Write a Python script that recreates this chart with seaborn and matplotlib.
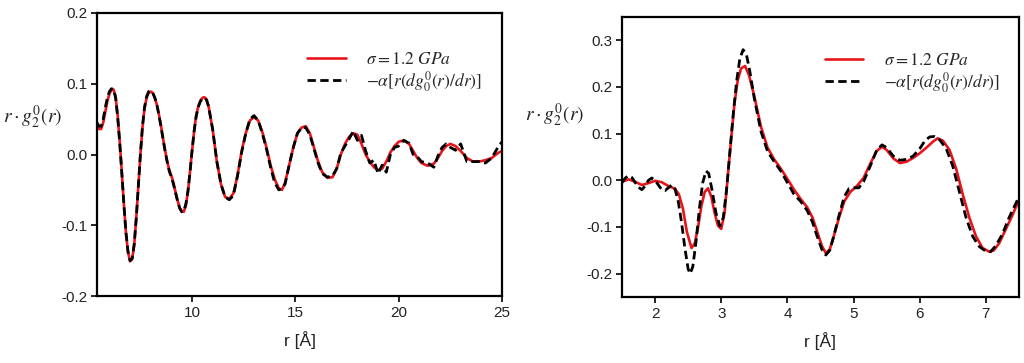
import numpy as np
import pandas as pd
import seaborn as sns
import matplotlib
matplotlib.use("Agg")
import matplotlib.pyplot as plt

# ---------------- data ----------------
r_left = [5.4, 5.5, 5.6, 5.7, 5.8, 5.9, 6.0, 6.1, 6.2, 6.3, 6.4, 6.5, 6.6, 6.7, 6.8, 6.9,
          7.0, 7.1, 7.2, 7.3, 7.4, 7.5, 7.6, 7.7, 7.8, 7.9, 8.0, 8.1, 8.2, 8.3, 8.4, 8.5,
          8.6, 8.7, 8.8, 8.9, 9.0, 9.1, 9.2, 9.3, 9.4, 9.5, 9.6, 9.7, 9.8, 9.9, 10.0,
          10.1, 10.2, 10.3, 10.4, 10.5, 10.6, 10.7, 10.8,
          11.0, 11.2, 11.4, 11.6, 11.8, 12.0, 12.2, 12.4, 12.6, 12.8, 13.0, 13.2, 13.4,
          13.6, 13.8, 14.0, 14.2, 14.35, 14.5, 14.7, 14.9, 15.1, 15.3, 15.5, 15.7, 15.9,
          16.1, 16.3, 16.55, 16.8, 17.0, 17.2, 17.4, 17.6, 17.8, 18.0, 18.2, 18.4, 18.6,
          18.8, 19.0, 19.2, 19.4, 19.6, 19.8, 20.0, 20.25, 20.5, 20.7, 20.9, 21.1, 21.4,
          21.7, 21.9, 22.1, 22.3, 22.5, 22.75, 23.0, 23.3, 23.6, 23.9, 24.2, 24.5, 24.8,
          25.0]
sigma_left = [0.042, 0.036, 0.036, 0.045, 0.06, 0.075, 0.086, 0.091, 0.092, 0.082, 0.055,
              0.018, -0.025, -0.07, -0.11, -0.138, -0.151, -0.148, -0.128, -0.09, -0.045,
              0.0, 0.038, 0.065, 0.08, 0.087, 0.089, 0.087, 0.08, 0.07, 0.056, 0.04,
              0.022, 0.005, -0.01, -0.022, -0.03, -0.04, -0.053, -0.065, -0.075, -0.08,
              -0.081, -0.072, -0.053, -0.025, 0.005, 0.033, 0.055, 0.068, 0.076, 0.08,
              0.081, 0.078, 0.068,
              0.035, -0.01, -0.042, -0.06, -0.063, -0.055, -0.03, 0.005, 0.03, 0.048,
              0.053, 0.048, 0.032, 0.01, -0.015, -0.035, -0.048, -0.05, -0.04, -0.015,
              0.01, 0.03, 0.038, 0.04, 0.03, 0.01, -0.01, -0.025, -0.033, -0.032, -0.02,
              0.0, 0.015, 0.025, 0.03, 0.028, 0.015, 0.0, -0.01, -0.018, -0.022, -0.02,
              -0.01, 0.003, 0.012, 0.018, 0.02, 0.015, 0.005, -0.005, -0.012, -0.016,
              -0.013, -0.005, 0.005, 0.012, 0.015, 0.012, 0.005, -0.005, -0.01, -0.01,
              -0.008, -0.005, 0.002, 0.005]
deriv_left = [0.045, 0.04, 0.04, 0.05, 0.066, 0.08, 0.089, 0.093, 0.092, 0.08, 0.053,
              0.016, -0.026, -0.07, -0.11, -0.137, -0.15, -0.147, -0.127, -0.09, -0.045,
              0.0, 0.04, 0.067, 0.082, 0.089, 0.09, 0.087, 0.08, 0.07, 0.055, 0.039,
              0.021, 0.004, -0.011, -0.024, -0.032, -0.042, -0.054, -0.066, -0.076,
              -0.081, -0.08, -0.07, -0.052, -0.025, 0.005, 0.033, 0.054, 0.067, 0.075,
              0.079, 0.08, 0.077, 0.068,
              0.035, -0.01, -0.042, -0.06, -0.064, -0.058, -0.03, 0.003, 0.03, 0.05,
              0.055, 0.048, 0.03, 0.008, -0.018, -0.04, -0.05, -0.048, -0.042, -0.015,
              0.01, 0.03, 0.038, 0.038, 0.028, 0.008, -0.012, -0.027, -0.032, -0.03,
              -0.02, 0.002, 0.012, 0.022, 0.033, 0.02, 0.027, 0.005, -0.012, -0.008,
              -0.027, -0.015, -0.025, 0.0, 0.01, 0.012, 0.02, 0.016, 0.0, -0.003, -0.01,
              -0.012, -0.018, -0.002, 0.01, 0.015, 0.01, 0.006, 0.015, -0.01, -0.01,
              -0.01, -0.012, -0.005, 0.01, 0.018]

r_right_sigma = [1.5, 1.6, 1.7, 1.8, 1.9, 2.0, 2.1, 2.2, 2.3, 2.36, 2.42, 2.48, 2.55, 2.6,
                 2.65, 2.7, 2.75, 2.8, 2.85, 2.9, 2.95, 3.0, 3.05, 3.1, 3.15, 3.2, 3.25,
                 3.3, 3.36, 3.42, 3.5, 3.6, 3.7, 3.8, 3.9, 4.0, 4.1, 4.2, 4.3, 4.38, 4.45,
                 4.52, 4.58, 4.64, 4.7, 4.78, 4.86, 4.95, 5.05, 5.15, 5.25, 5.35, 5.43,
                 5.5, 5.6, 5.7, 5.8, 5.9, 6.0, 6.1, 6.2, 6.27, 6.35, 6.45, 6.55, 6.65,
                 6.75, 6.85, 6.95, 7.05, 7.12, 7.2, 7.3, 7.4, 7.5]
sigma_right = [-0.003, 0.002, -0.003, -0.01, -0.006, -0.001, -0.004, -0.012, -0.018,
               -0.03, -0.06, -0.11, -0.145, -0.135, -0.1, -0.055, -0.025, -0.017, -0.035,
               -0.07, -0.097, -0.104, -0.07, 0.01, 0.09, 0.165, 0.215, 0.24, 0.245,
               0.225, 0.18, 0.115, 0.07, 0.045, 0.025, 0.003, -0.02, -0.04, -0.058, -0.08,
               -0.11, -0.14, -0.156, -0.148, -0.12, -0.08, -0.045, -0.025, -0.012, 0.005,
               0.035, 0.063, 0.072, 0.065, 0.047, 0.037, 0.04, 0.048, 0.058, 0.07, 0.083,
               0.09, 0.085, 0.065, 0.025, -0.03, -0.08, -0.12, -0.145, -0.153, -0.15,
               -0.135, -0.105, -0.075, -0.042]

r_right_deriv = [1.5, 1.55, 1.6, 1.65, 1.7, 1.75, 1.8, 1.85, 1.9, 1.95, 2.0, 2.05, 2.1,
                 2.15, 2.2, 2.25, 2.3, 2.35, 2.4, 2.45, 2.5, 2.53, 2.57, 2.62, 2.67, 2.72,
                 2.77, 2.81, 2.86, 2.92, 2.98, 3.03, 3.08, 3.13, 3.18, 3.23, 3.28, 3.33,
                 3.38, 3.43, 3.5, 3.6, 3.7, 3.8, 3.9, 4.0, 4.1, 4.2, 4.3, 4.38, 4.45,
                 4.52, 4.58, 4.64, 4.7, 4.78, 4.86, 4.93, 5.0, 5.08, 5.15, 5.25, 5.35,
                 5.43, 5.5, 5.6, 5.7, 5.8, 5.9, 6.0, 6.08, 6.15, 6.22, 6.3, 6.4, 6.5, 6.6,
                 6.7, 6.8, 6.9, 7.0, 7.07, 7.15, 7.25, 7.35, 7.45, 7.5]
deriv_right = [-0.005, 0.005, 0.01, 0.006, -0.005, -0.015, -0.02, -0.012, 0.0, 0.005, 0.0,
               -0.01, -0.02, -0.022, -0.016, -0.01, -0.018, -0.045, -0.09, -0.145, -0.19,
               -0.2, -0.185, -0.13, -0.06, -0.005, 0.02, 0.015, -0.02, -0.07, -0.098,
               -0.08, -0.02, 0.06, 0.14, 0.21, 0.26, 0.28, 0.27, 0.235, 0.175, 0.105,
               0.062, 0.04, 0.02, -0.005, -0.03, -0.045, -0.065, -0.09, -0.12, -0.148,
               -0.16, -0.15, -0.12, -0.075, -0.035, -0.018, -0.016, -0.016, -0.003, 0.03,
               0.065, 0.076, 0.07, 0.052, 0.043, 0.045, 0.052, 0.068, 0.085, 0.093, 0.094,
               0.087, 0.068, 0.03, -0.025, -0.08, -0.12, -0.142, -0.152, -0.153, -0.14,
               -0.115, -0.08, -0.05, -0.035]

left_yticks = [-0.2, -0.1, 0.0, 0.1, 0.2]
left_xticks = [10, 15, 20, 25]
right_yticks = [-0.2, -0.1, 0.0, 0.1, 0.2, 0.3]
right_xticks = [2, 3, 4, 5, 6, 7]

label_sigma = r'$\sigma = 1.2\ GPa$'
label_deriv = r'$-\alpha[r(dg_0^0(r)/dr)]$'
ylabel_txt = r'$r\cdot g_2^0(r)$'
xlabel_txt = 'r [Å]'

# ---------------- style ----------------
sns.set_style("white")
plt.rcParams['font.family'] = ['Liberation Sans', 'DejaVu Sans']
plt.rcParams['mathtext.fontset'] = 'stix'
plt.rcParams['axes.unicode_minus'] = False

RED = '#e8141b'
fig = plt.figure(figsize=(10.24, 3.63), dpi=100)
axL = fig.add_axes([97/1024, 1-296/363, (502-97)/1024, (296-13)/363])
axR = fig.add_axes([622/1024, 1-297/363, (1019-622)/1024, (297-17)/363])

def draw(ax, rs, ys, rd, yd):
    sns.lineplot(x=rs, y=ys, ax=ax, color=RED, lw=1.9, sort=False, estimator=None,
                 label=label_sigma, solid_joinstyle='round', solid_capstyle='round')
    sns.lineplot(x=rd, y=yd, ax=ax, color='black', lw=2.0, sort=False, estimator=None,
                 label=label_deriv, linestyle=(0, (3, 1.6)), dash_joinstyle='round')

draw(axL, r_left, sigma_left, r_left, deriv_left)
draw(axR, r_right_sigma, sigma_right, r_right_deriv, deriv_right)

axL.set_xlim(5.4, 25)
axL.set_ylim(-0.2, 0.2)
axL.set_xticks(left_xticks)
axL.set_yticks(left_yticks)
axL.set_yticklabels([f'{v:.1f}' for v in left_yticks])

axR.set_xlim(1.5, 7.5)
axR.set_ylim(-0.25, 0.35)
axR.set_xticks(right_xticks)
axR.set_yticks(right_yticks)
axR.set_yticklabels([f'{v:.1f}' for v in right_yticks])

for ax, anchor_y in ((axL, 0.92), (axR, 0.93)):
    for s in ax.spines.values():
        s.set_visible(True)
        s.set_linewidth(1.6)
        s.set_color('black')
    ax.tick_params(axis='both', direction='out', length=4, width=1.2, labelsize=11,
                   colors='black', labelcolor='#222222', pad=3, bottom=True, left=True)
    ax.set_xlabel(xlabel_txt, fontsize=12.5, color='#222222', labelpad=8)
    ax.set_ylabel('')
    ax.legend(loc='upper right', bbox_to_anchor=(0.99, anchor_y), frameon=False,
              fontsize=12.5, handlelength=2.2, handletextpad=1.2, labelspacing=0.1)

fig.text(33/1024, 1-117/363, ylabel_txt, fontsize=14, ha='center', va='center',
         color='#222222')
fig.text(555/1024, 1-115/363, ylabel_txt, fontsize=14, ha='center', va='center',
         color='#222222')

fig.savefig('out.png', dpi=100)
